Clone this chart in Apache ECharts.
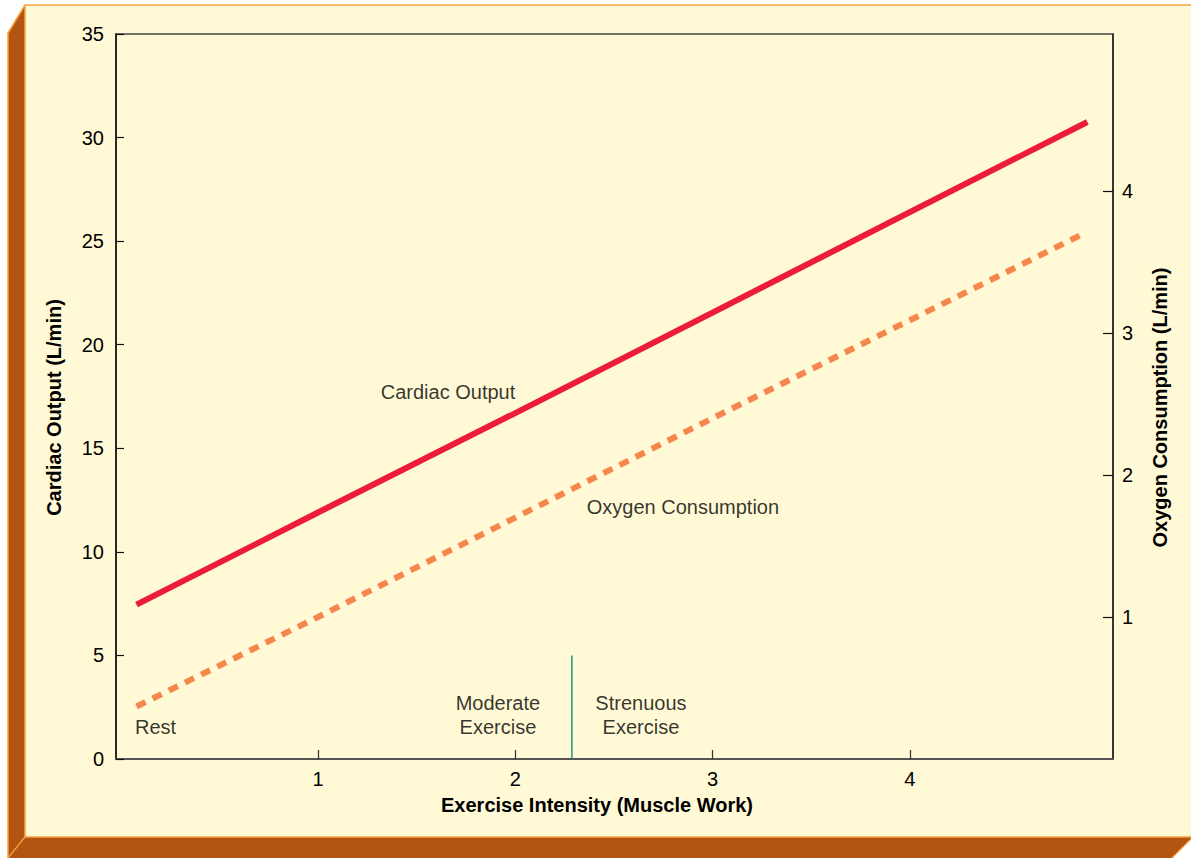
<!DOCTYPE html>
<html>
<head>
<meta charset="utf-8">
<script src="https://cdn.jsdelivr.net/npm/echarts@6/dist/echarts.min.js"></script>
<style>
html,body{margin:0;padding:0;background:#fff;}
#chart{width:1191px;height:858px;}
</style>
</head>
<body>
<div id="chart"></div>
<script>
// ---- data ----
const intensityPoints = [0.08, 1, 2, 3, 4, 4.9];
const cardiacOutput = [7.45, 11.9, 16.7, 21.55, 26.4, 30.75];      // L/min (left axis)
const oxygenX = [0.08, 1, 2, 3, 4, 4.88];
const oxygenConsumption = [0.37, 1.0, 1.7, 2.4, 3.09, 3.7];        // L/min (right axis)
const boundaryX = [2.287, 2.287];
const boundaryY = [0, 5];
const xTickValues = [1, 2, 3, 4];
const leftTickValues = [0, 5, 10, 15, 20, 25, 30, 35];
const rightTickValues = [1, 2, 3, 4];
const annotationTexts = ['Cardiac Output', 'Oxygen Consumption', 'Rest', 'Moderate\nExercise', 'Strenuous\nExercise'];

const FONT = '"Liberation Sans", Arial, Helvetica, sans-serif';
const BG = '#FFF9D6';
const BROWN = '#B25412';
const HILITE = '#F6A33F';
const TXT = '#000';

const chart = echarts.init(document.getElementById('chart'), null, {renderer: 'svg'});

const pairs = (xs, ys) => xs.map((x, i) => [x, ys[i]]);

const annotationPos = [
  {coord: [1.659, 17.72], align: 'center'},
  {coord: [2.850, 12.17], align: 'center'},
  {coord: [0.072, 1.55], align: 'left'},
  {coord: [1.912, 2.12], align: 'center'},
  {coord: [2.637, 2.12], align: 'center'}
];

const option = {
  backgroundColor: BG,
  animation: false,
  textStyle: {fontFamily: FONT},
  graphic: [
    {type: 'rect', shape: {x: 0, y: 0, width: 1191, height: 5}, style: {fill: '#fff'}, silent: true},
    {type: 'rect', shape: {x: 0, y: 0, width: 8, height: 858}, style: {fill: '#fff'}, silent: true},
    {type: 'polygon', shape: {points: [[8, 0], [25, 0], [25, 5], [8, 33]]}, style: {fill: '#fff'}, silent: true},
    {type: 'polygon', shape: {points: [[8, 33], [25, 5], [25, 837], [8, 858]]}, style: {fill: BROWN}, silent: true},
    {type: 'polygon', shape: {points: [[8, 858], [25, 837], [1191, 837], [1191, 839], [1172, 858]]}, style: {fill: BROWN}, silent: true},
    {type: 'polygon', shape: {points: [[1191, 839], [1191, 858], [1172, 858]]}, style: {fill: '#fff'}, silent: true},
    {type: 'polyline', shape: {points: [[8, 858], [8, 33], [25, 5], [1191, 5]]}, style: {stroke: HILITE, lineWidth: 1.5, fill: null}, silent: true},
    {type: 'polyline', shape: {points: [[25, 5], [25, 837], [1191, 837]]}, style: {stroke: HILITE, lineWidth: 1.5, fill: null}, silent: true},
    {type: 'line', shape: {x1: 8, y1: 858, x2: 25, y2: 837}, style: {stroke: HILITE, lineWidth: 1.2}, silent: true},
    {type: 'line', shape: {x1: 1172, y1: 858, x2: 1191, y2: 839}, style: {stroke: HILITE, lineWidth: 1.2}, silent: true}
  ],
  grid: {
    left: 116, top: 34, right: 78, bottom: 99,
    show: true, borderColor: '#444', borderWidth: 1.5, backgroundColor: 'transparent'
  },
  xAxis: {
    type: 'value',
    min: -0.024, max: 5.03,
    name: 'Exercise Intensity (Muscle Work)',
    nameLocation: 'middle',
    nameGap: 36,
    nameTextStyle: {fontSize: 20, fontWeight: 'bold', color: TXT, fontFamily: FONT, padding: [0, 35, 0, 0]},
    axisLine: {show: true, onZero: false, lineStyle: {color: '#555', width: 2}},
    axisTick: {show: true, inside: true, length: 9, customValues: xTickValues, lineStyle: {color: '#333', width: 1.2}},
    axisLabel: {show: true, customValues: xTickValues, fontSize: 20, color: TXT, margin: 10, fontFamily: FONT},
    splitLine: {show: false}
  },
  yAxis: [
    {
      type: 'value',
      min: 0, max: 35,
      name: 'Cardiac Output (L/min)',
      nameLocation: 'middle',
      nameRotate: 90,
      nameGap: 52,
      nameTextStyle: {fontSize: 20, fontWeight: 'bold', color: TXT, fontFamily: FONT, padding: [0, 22, 0, 0]},
      axisLine: {show: true, onZero: false, lineStyle: {color: '#111', width: 1.5}},
      axisTick: {show: true, inside: true, length: 8, customValues: leftTickValues, lineStyle: {color: '#111', width: 1.2}},
      axisLabel: {customValues: leftTickValues, fontSize: 20, color: TXT, margin: 12, fontFamily: FONT},
      splitLine: {show: false}
    },
    {
      type: 'value',
      position: 'right',
      min: 0, max: 5.106,
      name: 'Oxygen Consumption (L/min)',
      nameLocation: 'middle',
      nameRotate: 90,
      nameGap: 37,
      nameTextStyle: {fontSize: 20, fontWeight: 'bold', color: TXT, fontFamily: FONT, padding: [0, 22, 0, 0]},
      axisLine: {show: true, onZero: false, lineStyle: {color: '#222', width: 1.5}},
      axisTick: {show: true, inside: true, length: 10, customValues: rightTickValues, lineStyle: {color: '#111', width: 1.2}},
      axisLabel: {customValues: rightTickValues, fontSize: 20, color: TXT, margin: 9, fontFamily: FONT},
      splitLine: {show: false}
    }
  ],
  series: [
    {
      name: 'Cardiac Output',
      type: 'line',
      yAxisIndex: 0,
      data: pairs(intensityPoints, cardiacOutput),
      showSymbol: false,
      symbol: 'none',
      lineStyle: {color: '#EC1C3A', width: 6, cap: 'butt'},
      z: 5
    },
    {
      name: 'Oxygen Consumption',
      type: 'line',
      yAxisIndex: 1,
      data: pairs(oxygenX, oxygenConsumption),
      showSymbol: false,
      symbol: 'none',
      lineStyle: {color: '#F5874E', width: 6, type: [10, 8], cap: 'butt'},
      z: 4
    },
    {
      name: 'boundary',
      type: 'line',
      yAxisIndex: 0,
      data: pairs(boundaryX, boundaryY),
      showSymbol: false,
      symbol: 'none',
      lineStyle: {color: '#1A9A8C', width: 1.5},
      z: 3
    },
    {
      name: 'annotations',
      type: 'scatter',
      yAxisIndex: 0,
      symbolSize: 0,
      silent: true,
      data: annotationTexts.map((t, i) => ({
        name: t,
        value: annotationPos[i].coord,
        label: {align: annotationPos[i].align}
      })),
      label: {
        show: true,
        position: 'inside',
        formatter: p => p.name,
        fontSize: 20,
        lineHeight: 24,
        color: TXT,
        fontFamily: FONT,
        verticalAlign: 'middle'
      },
      z: 6
    }
  ]
};
chart.setOption(option);
</script>
</body>
</html>
